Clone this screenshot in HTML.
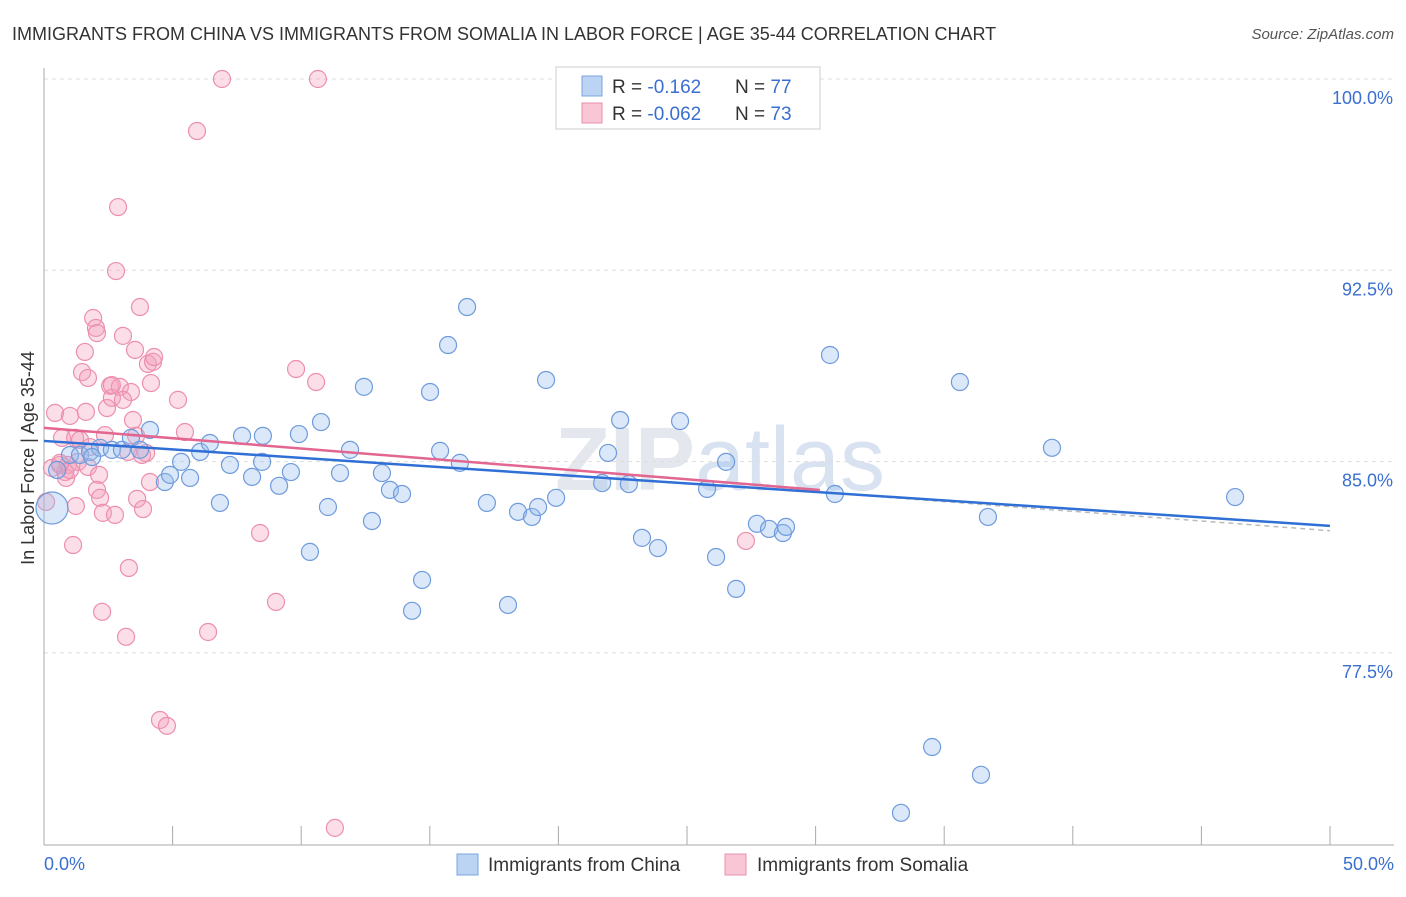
<!DOCTYPE html>
<html><head><meta charset="utf-8"><style>
body{margin:0;background:#fff;font-family:"Liberation Sans",sans-serif}
svg text{font-family:"Liberation Sans",sans-serif}
</style></head><body>
<svg id="c" width="1406" height="892" xmlns="http://www.w3.org/2000/svg">
<text x="12" y="40" font-size="18" fill="#333">IMMIGRANTS FROM CHINA VS IMMIGRANTS FROM SOMALIA IN LABOR FORCE | AGE 35-44 CORRELATION CHART</text>
<text x="1394" y="39" font-size="15" fill="#555" text-anchor="end" font-style="italic">Source: ZipAtlas.com</text>
<text x="720" y="490" font-size="90" fill="#e4e8ee" text-anchor="middle" font-weight="bold">ZIP<tspan font-weight="normal" fill="#d8e2f0">atlas</tspan></text>
<g id="grid"></g><g id="axes"></g><g id="pts"></g><g id="trend"></g>
<g>
<rect x="556" y="67" width="264" height="62" fill="#fff" stroke="#ccc"/>
<rect x="582" y="76" width="20" height="20" fill="#bcd4f4" stroke="#7aa4dc"/>
<rect x="582" y="103" width="20" height="20" fill="#f9c6d6" stroke="#e890ad"/>
<text x="612" y="93" font-size="19" fill="#333">R = <tspan fill="#3a6fd0"> -0.162</tspan><tspan x="735">N = </tspan><tspan fill="#3a6fd0">77</tspan></text>
<text x="612" y="120" font-size="19" fill="#333">R = <tspan fill="#3a6fd0">-0.062</tspan><tspan x="735">N = </tspan><tspan fill="#3a6fd0">73</tspan></text>
</g>
<g>
<rect x="457" y="854" width="21" height="21" fill="#bcd4f4" stroke="#7aa4dc"/>
<text x="488" y="871" font-size="19" fill="#333">Immigrants from China</text>
<rect x="725" y="854" width="21" height="21" fill="#f9c6d6" stroke="#e890ad"/>
<text x="757" y="871" font-size="19" fill="#333">Immigrants from Somalia</text>
</g>
<text transform="translate(34,458) rotate(-90)" font-size="18" fill="#333" text-anchor="middle">In Labor Force | Age 35-44</text>
</svg>
<script>
const yTicks=[100,92.5,85,77.5];
const yTickLabels=["100.0%","92.5%","85.0%","77.5%"];
const chinaX=[0.31,0.51,1.01,1.40,1.79,2.18,2.64,3.03,3.38,3.73,4.12,4.70,4.90,5.33,5.68,6.07,6.45,6.84,7.23,7.70,8.09,8.48,8.51,9.14,9.60,9.91,10.34,10.77,11.04,11.51,11.90,12.44,12.75,13.14,13.45,13.92,14.31,14.70,15.01,15.40,15.71,16.17,16.45,17.22,18.04,18.43,18.97,19.21,19.52,19.91,21.70,21.93,22.40,22.74,23.25,23.87,24.73,25.78,26.13,26.52,26.91,27.72,28.19,28.73,28.85,30.56,30.75,33.32,34.53,35.61,36.43,36.70,39.19,46.31,20.37,29.70,1.87];
const chinaY=[83.18,84.67,85.26,85.26,85.38,85.54,85.46,85.46,85.93,85.46,86.24,84.20,84.48,84.99,84.36,85.38,85.73,83.38,84.87,86.01,84.40,84.99,86.01,84.05,84.59,86.08,81.46,86.55,83.22,84.55,85.46,87.93,82.67,84.55,83.89,83.73,79.15,80.36,87.73,85.42,89.57,84.95,91.06,83.38,79.38,83.03,82.83,83.22,88.20,83.58,84.16,85.34,86.63,84.12,82.01,81.61,86.59,83.93,81.26,84.99,80.01,82.56,82.36,82.20,82.44,89.18,83.73,71.23,73.81,88.12,72.72,82.83,85.54,83.61,100.0,100.0,85.18];
const somX=[0.08,0.31,0.43,0.62,0.70,0.82,0.93,1.01,1.13,1.21,1.24,1.32,1.40,1.48,1.59,1.63,1.71,1.79,1.91,2.02,2.06,2.06,2.18,2.26,2.29,2.37,2.45,2.57,2.64,2.76,2.88,2.80,2.95,3.07,3.19,3.27,3.30,3.38,3.46,3.54,3.58,3.62,3.73,3.85,3.97,4.04,4.12,4.16,4.24,4.28,4.51,4.78,5.21,5.48,5.95,6.38,6.92,8.40,9.02,9.80,10.58,10.65,11.31,27.29,1.71,0.62,0.86,2.64,3.07,3.81,2.14,1.01];
const somY=[83.42,84.75,86.91,84.87,85.93,84.59,84.87,86.79,81.73,85.93,83.26,84.99,85.85,88.51,89.30,86.95,88.28,85.57,90.63,90.24,90.04,83.89,83.58,79.11,82.99,86.04,87.10,87.97,87.50,82.91,94.98,92.47,87.93,89.93,78.13,85.38,80.83,87.73,86.63,89.38,86.01,83.54,91.06,83.14,85.34,88.83,84.20,88.08,88.91,89.10,74.87,74.64,87.42,86.16,97.96,78.32,100.0,82.20,79.50,88.63,88.12,100.0,70.64,81.89,84.79,84.95,84.36,88.00,87.42,85.26,84.48,84.67];
const chinaTrend=[85.81,82.48];
const somTrend=[86.32,82.29];
const NS='http://www.w3.org/2000/svg';
const X=v=>44+v/50*1286, Y=v=>79+(100-v)/7.5*191.3;
function mk(t,a,p){const e=document.createElementNS(NS,t);for(const k in a)e.setAttribute(k,a[k]);document.getElementById(p).appendChild(e);return e;}
yTicks.forEach((t,i)=>{
 const g=mk('line',{x1:44,x2:1394,y1:Y(t),y2:Y(t),stroke:'#ddd','stroke-dasharray':'4,4'},'grid');
 
 
 const l=mk('text',{x:1393,y:Y(t)+25,'font-size':18,fill:'#3a6fd0','text-anchor':'end'},'axes');
 l.textContent=yTickLabels[i];
 
 
});
const ax=mk('line',{x1:44,x2:44,y1:68,y2:845,stroke:'#aaa'},'axes');


const bx=mk('line',{x1:44,x2:1394,y1:845,y2:845,stroke:'#aaa'},'axes');


for(let i=0;i<=10;i++){const tk=mk('line',{x1:X(i*5),x2:X(i*5),y1:826,y2:845,stroke:'#aaa'},'axes');
 
 }
[["0.0%",44,'start'],["50.0%",1394,'end']].forEach(d=>{const t=mk('text',{x:d[1],y:870,'font-size':18,fill:'#3a6fd0','text-anchor':d[2]},'axes');t.textContent=d[0];
 
 });
somX.forEach((v,i)=>{const c=mk('circle',{cx:X(v),cy:Y(somY[i]),r:8.5,fill:'rgba(244,160,188,0.35)',stroke:'#ec8fae','stroke-width':1.2},'pts');
 
 });
chinaX.forEach((v,i)=>{const c=mk('circle',{cx:X(v),cy:Y(chinaY[i]),r:i===0?16:8.5,fill:'rgba(150,188,238,0.35)',stroke:'#6f9bdc','stroke-width':1.2},'pts');
 
 });
const dash=mk('line',{x1:X(30),y1:Y(chinaTrend[0]+(chinaTrend[1]-chinaTrend[0])*0.6),x2:X(50),y2:Y(somTrend[1]),stroke:'#bbb','stroke-width':1.5,'stroke-dasharray':'5,4'},'trend');


const t1=mk('line',{x1:X(0),y1:Y(chinaTrend[0]),x2:X(50),y2:Y(chinaTrend[1]),stroke:'#2f6fd6','stroke-width':2.5},'trend');


const f=30.17/50;
const t2=mk('line',{x1:X(0),y1:Y(somTrend[0]),x2:X(30.17),y2:Y(somTrend[0]+(somTrend[1]-somTrend[0])*f),stroke:'#e2668f','stroke-width':2.5},'trend');


</script>
</body></html>
